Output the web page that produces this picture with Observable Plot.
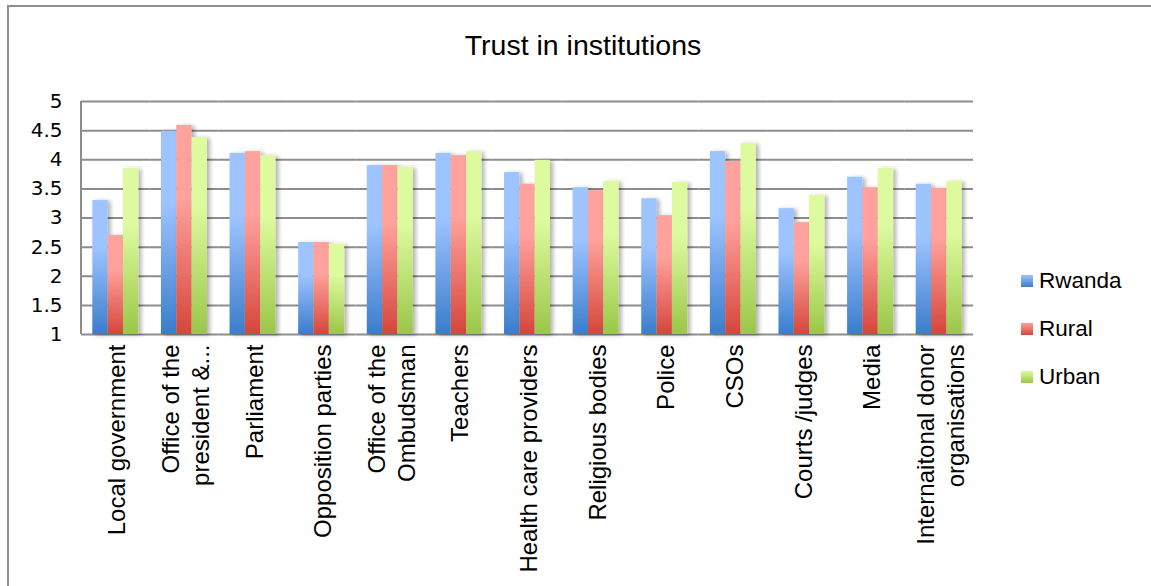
<!DOCTYPE html>
<html>
<head>
<meta charset="utf-8">
<script src="https://cdn.jsdelivr.net/npm/d3@7"></script>
<script src="https://cdn.jsdelivr.net/npm/@observablehq/plot@0.6"></script>
<style>
  html, body { margin: 0; padding: 0; background: #fff; overflow: hidden; width: 1151px; height: 586px; }
  #border { position: absolute; left: 7px; top: 5px; width: 1200px; height: 700px; border: 2px solid #8e8e8e; }
  #title { position: absolute; left: 15px; top: 31px; width: 1136px; text-align: center;
           font-family: "Liberation Sans", Arial, sans-serif; font-size: 28.5px; line-height: 28px; color: #000; }
  #chart { position: absolute; left: 0; top: 72px; }
  #legend { position: absolute; left: 1021px; top: 266px; font-family: "Liberation Sans", Arial, sans-serif; font-size: 22.5px; color: #000; }
  .item { display: flex; align-items: center; height: 30px; margin-bottom: 18px; }
  .sw { width: 12px; height: 12px; margin-right: 6px; }
</style>
</head>
<body>
<div id="border"></div>
<div id="title">Trust in institutions</div>
<div id="chart"></div>
<div id="legend"></div>
<script>
const categories = [
  "Local government",
  "Office of the\npresident &...",
  "Parliament",
  "Opposition parties",
  "Office of the\nOmbudsman",
  "Teachers",
  "Health care providers",
  "Religious bodies",
  "Police",
  "CSOs",
  "Courts /judges",
  "Media",
  "Internaitonal donor\norganisations"
];
const series = ["Rwanda", "Rural", "Urban"];
const rwanda = [3.30, 4.49, 4.11, 2.58, 3.90, 4.11, 3.78, 3.52, 3.33, 4.14, 3.16, 3.70, 3.58];
const rural  = [2.70, 4.59, 4.14, 2.58, 3.90, 4.07, 3.58, 3.47, 3.04, 3.97, 2.92, 3.52, 3.51];
const urban  = [3.85, 4.38, 4.07, 2.55, 3.87, 4.14, 3.99, 3.63, 3.61, 4.28, 3.39, 3.85, 3.63];
const yTicks = [1, 1.5, 2, 2.5, 3, 3.5, 4, 4.5, 5];
const gradients = {
  Rwanda: ["#9ec4ff", "#3a7dcc"],
  Rural:  ["#ffa19c", "#d5463b"],
  Urban:  ["#ddfa9e", "#9bc649"]
};

const valuesBySeries = {Rwanda: rwanda, Rural: rural, Urban: urban};
const data = [];
categories.forEach((c, i) => {
  series.forEach(s => data.push({category: c, series: s, value: valuesBySeries[s][i]}));
});

const svg = Plot.plot({
  width: 1151,
  height: 514,
  marginLeft: 81,
  marginRight: 178,
  marginTop: 29,
  marginBottom: 252,
  style: {fontFamily: "Liberation Sans, Arial, sans-serif", fontSize: "22px", color: "#000", background: "transparent", overflow: "visible"},
  fx: {domain: categories, padding: 0, round: false, axis: null, label: null},
  x: {domain: series, paddingInner: 0, paddingOuter: 0.74, round: false, axis: null, label: null},
  y: {domain: [1, 5], axis: null, label: null},
  color: {domain: series, range: series.map(s => `url(#grad-${s})`)},
  marks: [
    Plot.gridY(yTicks, {stroke: "#8c8c8c", strokeOpacity: 1, strokeWidth: 2}),
    Plot.barY(data, {fx: "category", x: "series", y1: 1, y2: "value", fill: "series"}),
    Plot.axisY(yTicks, {anchor: "left", tickSize: 0, tickPadding: 19, tickFormat: d => String(d), fontSize: 20, fontFamily: "DejaVu Sans", fill: "#000", label: null}),
    Plot.text(categories, {fx: d => d, text: d => d, frameAnchor: "bottom", rotate: -90, textAnchor: "end", lineAnchor: "middle", dy: 10, fontSize: 24, lineHeight: 1.25, fill: "#000"})
  ]
});

const sel = d3.select(svg);
const defs = sel.insert("defs", ":first-child");
series.forEach(s => {
  const g = defs.append("linearGradient").attr("id", `grad-${s}`).attr("x1", 0).attr("y1", 0).attr("x2", 0).attr("y2", 1);
  g.append("stop").attr("offset", "0%").attr("stop-color", gradients[s][0]);
  g.append("stop").attr("offset", "35%").attr("stop-color", gradients[s][0]);
  g.append("stop").attr("offset", "100%").attr("stop-color", gradients[s][1]);
});
const f = defs.append("filter").attr("id", "shadow").attr("x", "-20%").attr("y", "-10%").attr("width", "160%").attr("height", "120%");
f.append("feDropShadow").attr("dx", 3).attr("dy", 1).attr("stdDeviation", 2).attr("flood-color", "#000").attr("flood-opacity", 0.3);
sel.selectAll("rect").filter(function() { return (this.getAttribute("fill") || "").startsWith("url("); }).attr("filter", "url(#shadow)");

// Left axis line, placed with the plot's own scales
const fxScale = svg.scale("fx");
const yScale = svg.scale("y");
const xLeft = fxScale.apply(categories[0]);
sel.append("line")
  .attr("x1", xLeft).attr("x2", xLeft)
  .attr("y1", yScale.apply(5)).attr("y2", yScale.apply(1))
  .attr("stroke", "#8c8c8c").attr("stroke-width", 2);

document.getElementById("chart").appendChild(svg);

const legend = d3.select("#legend");
series.forEach(s => {
  const item = legend.append("div").attr("class", "item");
  item.append("div").attr("class", "sw").style("background", `linear-gradient(${gradients[s][0]}, ${gradients[s][1]})`);
  item.append("span").text(s);
});
</script>
</body>
</html>
